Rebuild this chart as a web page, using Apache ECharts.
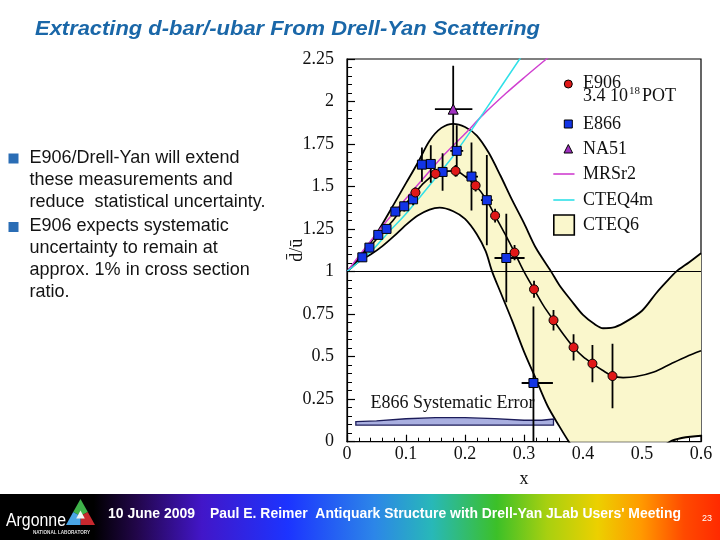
<!DOCTYPE html>
<html><head><meta charset="utf-8">
<script src="https://cdn.jsdelivr.net/npm/echarts@6/dist/echarts.min.js"></script>
<style>html,body{margin:0;padding:0;background:#fff}#c{width:720px;height:540px}</style>
</head><body><div id="c"></div>
<script>
// ---------- data ----------
const e906X   = [0.116,0.150,0.184,0.218,0.251,0.284,0.317,0.350,0.384,0.416,0.450];
const e906Y   = [1.465,1.575,1.592,1.506,1.329,1.112,0.896,0.714,0.555,0.459,0.386];
const e906Err = [0.030,0.030,0.035,0.035,0.040,0.045,0.050,0.060,0.077,0.110,0.190];

const e866X   = [0.026,0.038,0.053,0.067,0.082,0.097,0.112,0.127,0.142,0.162,0.186,0.211,0.237,0.270,0.316];
const e866Y   = [1.084,1.141,1.216,1.251,1.353,1.384,1.425,1.629,1.633,1.586,1.710,1.559,1.420,1.080,0.345];
const e866Err = [0.025,0.020,0.020,0.020,0.025,0.030,0.035,0.100,0.110,0.110,0.150,0.200,0.265,0.260,0.450];
const e866XErrLo = [0.004,0.004,0.004,0.004,0.004,0.004,0.004,0.006,0.006,0.008,0.011,0.011,0.010,0.020,0.020];
const e866XErrHi = [0.004,0.004,0.004,0.004,0.004,0.004,0.004,0.006,0.006,0.008,0.011,0.011,0.010,0.031,0.033];

const na51X = [0.180], na51Y = [1.955], na51Err = [0.255], na51XErrLo = [0.031], na51XErrHi = [0.0325];

const cteq6Upper = [[0,1],[0.02,1.08],[0.04,1.17],[0.06,1.28],[0.08,1.40],[0.10,1.52],[0.12,1.64],[0.14,1.77],[0.16,1.845],[0.18,1.869],[0.20,1.85],[0.22,1.80],[0.24,1.70],[0.26,1.565],[0.28,1.42],[0.30,1.285],[0.32,1.14],[0.346,1.0],[0.36,0.92],[0.38,0.83],[0.40,0.745],[0.42,0.69],[0.434,0.667],[0.45,0.67],[0.47,0.70],[0.50,0.77],[0.524,0.873],[0.54,0.935],[0.558,1.0],[0.58,1.055],[0.60,1.108]];
const cteq6Lower = [[0,1],[0.02,1.06],[0.04,1.10],[0.06,1.15],[0.08,1.21],[0.10,1.275],[0.12,1.33],[0.14,1.365],[0.157,1.376],[0.18,1.355],[0.20,1.31],[0.22,1.22],[0.235,1.12],[0.246,1.0],[0.26,0.88],[0.28,0.71],[0.30,0.53],[0.32,0.37],[0.34,0.21],[0.36,0.09],[0.376,0],[0.40,-0.12],[0.45,-0.22],[0.50,-0.15],[0.547,0],[0.60,0.035]];
const cteq6Central = [[0,1],[0.02,1.07],[0.04,1.15],[0.06,1.23],[0.08,1.31],[0.10,1.40],[0.116,1.465],[0.13,1.52],[0.15,1.575],[0.167,1.59],[0.184,1.592],[0.20,1.56],[0.218,1.506],[0.235,1.43],[0.251,1.329],[0.268,1.22],[0.284,1.112],[0.30,1.0],[0.317,0.896],[0.333,0.80],[0.35,0.714],[0.367,0.63],[0.384,0.555],[0.40,0.50],[0.416,0.459],[0.433,0.42],[0.45,0.386],[0.468,0.377],[0.49,0.383],[0.52,0.41],[0.55,0.46],[0.575,0.50],[0.60,0.534]];
const mrsr2 = [[0,1],[0.04,1.18],[0.08,1.35],[0.12,1.51],[0.16,1.67],[0.20,1.81],[0.23,1.92],[0.27,2.05],[0.30,2.14],[0.338,2.25],[0.36,2.31]];
const cteq4m = [[0,1],[0.02,1.058],[0.044,1.13],[0.07,1.23],[0.10,1.34],[0.157,1.58],[0.18,1.68],[0.2305,1.93],[0.2927,2.25],[0.31,2.34]];
const sysUpper = [[0.015,0.118],[0.05,0.122],[0.10,0.135],[0.15,0.141],[0.20,0.141],[0.25,0.136],[0.30,0.126],[0.33,0.126],[0.35,0.133]];
const sysLower = [[0.015,0.098],[0.35,0.098]];

const yTicks = {min:0, max:2.25, interval:0.25};
const xTicks = {min:0, max:0.6, interval:0.1};

const titleText = 'Extracting d-bar/-ubar From Drell-Yan Scattering';
const bulletLines = [
  ['E906/Drell-Yan will extend', 'these measurements and', 'reduce  statistical uncertainty.'],
  ['E906 expects systematic', 'uncertainty to remain at', 'approx. 1% in cross section', 'ratio.']
];
const footerDate = '10 June 2009';
const footerText = "Paul E. Reimer  Antiquark Structure with Drell-Yan JLab Users' Meeting";
const pageNum = '23';

// ---------- helpers ----------
const mctx = document.createElement('canvas').getContext('2d');
function measure(t, font){ mctx.font = font; return mctx.measureText(t).width; }

const errData = [];
e866X.forEach((x,i)=>errData.push([x,e866Y[i],e866Err[i],e866Err[i],e866XErrLo[i],e866XErrHi[i]]));
e906X.forEach((x,i)=>errData.push([x,e906Y[i],e906Err[i],e906Err[i],0,0]));
na51X.forEach((x,i)=>errData.push([x,na51Y[i],na51Err[i],na51Err[i],na51XErrLo[i],na51XErrHi[i]]));

function errRender(params, api){
  const x = api.value(0), y = api.value(1);
  const c = api.coord([x,y]);
  const t = api.coord([x, y + api.value(3)]);
  const b = api.coord([x, y - api.value(2)]);
  const l = api.coord([x - api.value(4), y]);
  const r = api.coord([x + api.value(5), y]);
  const st = {stroke:'#000', lineWidth:1.8};
  const ch = [{type:'line', shape:{x1:c[0],y1:t[1],x2:c[0],y2:b[1]}, style:st}];
  if (api.value(4) > 0 || api.value(5) > 0) ch.push({type:'line', shape:{x1:l[0],y1:c[1],x2:r[0],y2:c[1]}, style:st});
  return {type:'group', children:ch};
}
function bandRender(params, api){
  const pts = cteq6Upper.map(p=>api.coord(p));
  for (let i=cteq6Lower.length-1;i>=0;i--) pts.push(api.coord(cteq6Lower[i]));
  return {type:'polygon', shape:{points:pts}, style:{fill:'#faf7cc', stroke:null}};
}
function sysRender(params, api){
  const pts = sysUpper.map(p=>api.coord(p));
  for (let i=sysLower.length-1;i>=0;i--) pts.push(api.coord(sysLower[i]));
  const tp = api.coord([0.04, 0.226]);
  return {type:'group', children:[
    {type:'polygon', shape:{points:pts}, style:{fill:'#a9afe0', stroke:'#1c1c5a', lineWidth:1.3}},
    {type:'text', x:tp[0], y:tp[1], style:{text:'E866 Systematic Error', font:'18px "Liberation Serif"', fill:'#111', align:'left', verticalAlign:'middle'}}
  ]};
}

// ---------- slide graphics ----------
const graphics = [];
const titleFont = 'italic bold 20px "Liberation Sans"';
graphics.push({type:'text', x:35, y:29, scaleX: 505/measure(titleText,titleFont),
  style:{text:titleText, font:titleFont, fill:'#1a67a8', align:'left', verticalAlign:'middle'}});

let bfs = 18 * 210 / measure(bulletLines[0][0], '18px "Liberation Sans"');
const bFont = bfs.toFixed(2) + 'px "Liberation Sans"';
const lineYs = [[158.3,179.6,201.7],[226,247.8,269.6,291.7]];
const bulletYs = [158.5, 227];
bulletLines.forEach((grp,gi)=>{
  graphics.push({type:'rect', shape:{x:8.5, y:bulletYs[gi]-5, width:10, height:10}, style:{fill:'#2a6db5'}});
  grp.forEach((t,li)=>graphics.push({type:'text', x:29.5, y:lineYs[gi][li],
    style:{text:t, font:bFont, fill:'#141414', align:'left', verticalAlign:'middle'}}));
});

// legend (drawn as graphics to match the in-plot box layout)
const legFont = '18px "Liberation Serif"';
graphics.push({type:'circle', shape:{cx:568.3, cy:84, r:4}, style:{fill:'#e01818', stroke:'#000', lineWidth:1}, z:10});
graphics.push({type:'text', x:583, y:83, style:{text:'E906', font:legFont, fill:'#111', verticalAlign:'middle'}, z:10});
const potA = '3.4 10';
const potAW = measure(potA, legFont);
graphics.push({type:'text', x:583, y:96.5, style:{text:potA, font:legFont, fill:'#111', verticalAlign:'middle'}, z:10});
graphics.push({type:'text', x:583 + potAW + 1, y:91.5, style:{text:'18', font:'11px "Liberation Serif"', fill:'#111', verticalAlign:'middle'}, z:10});
graphics.push({type:'text', x:583 + potAW + 14, y:96.5, style:{text:'POT', font:legFont, fill:'#111', verticalAlign:'middle'}, z:10});
graphics.push({type:'rect', shape:{x:564.3, y:120, width:8, height:8}, style:{fill:'#1234e6', stroke:'#000', lineWidth:1}, z:10});
graphics.push({type:'text', x:583, y:124, style:{text:'E866', font:legFont, fill:'#111', verticalAlign:'middle'}, z:10});
graphics.push({type:'polygon', shape:{points:[[568.3,144.5],[564,153],[572.6,153]]}, style:{fill:'#a030c0', stroke:'#000', lineWidth:1}, z:10});
graphics.push({type:'text', x:583, y:149.5, style:{text:'NA51', font:legFont, fill:'#111', verticalAlign:'middle'}, z:10});
graphics.push({type:'line', shape:{x1:553.3,y1:174,x2:574.5,y2:174}, style:{stroke:'#d040d0', lineWidth:1.6}, z:10});
graphics.push({type:'text', x:583, y:174.5, style:{text:'MRSr2', font:legFont, fill:'#111', verticalAlign:'middle'}, z:10});
graphics.push({type:'line', shape:{x1:553.3,y1:200,x2:574.5,y2:200}, style:{stroke:'#30e0e8', lineWidth:1.6}, z:10});
graphics.push({type:'text', x:583, y:200.5, style:{text:'CTEQ4m', font:legFont, fill:'#111', verticalAlign:'middle'}, z:10});
graphics.push({type:'rect', shape:{x:553.8, y:215, width:20.5, height:20}, style:{fill:'#faf7cc', stroke:'#000', lineWidth:1.6}, z:10});
graphics.push({type:'text', x:583, y:225, style:{text:'CTEQ6', font:legFont, fill:'#111', verticalAlign:'middle'}, z:10});

// footer
graphics.push({type:'rect', shape:{x:0, y:494, width:720, height:46}, z:0,
  style:{fill:new echarts.graphic.LinearGradient(0,0,1,0,[
    {offset:0,color:'#000000'},{offset:0.13,color:'#000000'},{offset:0.19,color:'#22064a'},
    {offset:0.28,color:'#4216c8'},{offset:0.40,color:'#1c34ff'},{offset:0.52,color:'#2c86e8'},
    {offset:0.60,color:'#28b8b8'},{offset:0.69,color:'#3cc028'},{offset:0.76,color:'#a8d010'},
    {offset:0.83,color:'#ecd000'},{offset:0.89,color:'#ff9a00'},{offset:0.95,color:'#ff4a00'},
    {offset:1,color:'#ff2a00'}])}});
const argFont = '18px "Liberation Sans"';
graphics.push({type:'text', x:6, y:521.5, scaleX:60/measure('Argonne', argFont), style:{text:'Argonne', font:argFont, fill:'#fff', verticalAlign:'middle'}, z:5});
const nlFont = 'bold 5px "Liberation Sans"';
graphics.push({type:'text', x:33, y:533, scaleX:57/measure('NATIONAL LABORATORY', nlFont), style:{text:'NATIONAL LABORATORY', font:nlFont, fill:'#ddd', verticalAlign:'middle'}, z:5});
// logo triangle
graphics.push({type:'polygon', shape:{points:[[80.5,499],[87.8,512],[80.5,516],[73.2,512]]}, style:{fill:'#3fb24a'}, z:5});
graphics.push({type:'polygon', shape:{points:[[87.8,512],[95,525],[80.5,525],[80.5,516]]}, style:{fill:'#c8282e'}, z:5});
graphics.push({type:'polygon', shape:{points:[[73.2,512],[80.5,516],[80.5,525],[66,525]]}, style:{fill:'#4aa6e6'}, z:5});
graphics.push({type:'polygon', shape:{points:[[80.5,510.5],[76.2,518.5],[84.8,518.5]]}, style:{fill:'#f4f4f4'}, z:6});
const fdFont = 'bold 14px "Liberation Sans"';
graphics.push({type:'text', x:108, y:514.5, scaleX:87/measure(footerDate, fdFont), style:{text:footerDate, font:fdFont, fill:'#fff', verticalAlign:'middle'}, z:5});
graphics.push({type:'text', x:210, y:514.5, scaleX:471/measure(footerText, fdFont), style:{text:footerText, font:fdFont, fill:'#fff', verticalAlign:'middle'}, z:5});
graphics.push({type:'text', x:702, y:519, style:{text:pageNum, font:'9px "Liberation Sans"', fill:'#fff', verticalAlign:'middle'}, z:5});

// ---------- chart ----------
const chart = echarts.init(document.getElementById('c'), null, {renderer:'canvas'});
const axisFont = {fontFamily:'"Liberation Serif"', fontSize:18, color:'#111'};
const lineBase = {type:'line', showSymbol:false, symbol:'none', smooth:0.3, silent:true, clip:true};
chart.setOption({
  animation:false,
  backgroundColor:'#fff',
  grid:{left:347, top:59, width:354, height:382.7, show:true, borderColor:'#000', borderWidth:1.2, backgroundColor:'transparent'},
  xAxis:{type:'value', min:xTicks.min, max:xTicks.max, interval:xTicks.interval,
    name:'x', nameLocation:'middle', nameGap:29, nameTextStyle:axisFont, nameMoveOverlap:false,
    axisLine:{show:true, lineStyle:{color:'#000', width:1.2}},
    axisTick:{show:true, inside:true, length:7, lineStyle:{color:'#000', width:1.2}},
    minorTick:{show:true, splitNumber:5, length:4, lineStyle:{color:'#000', width:1}},
    splitLine:{show:false}, axisLabel:Object.assign({margin:4}, axisFont)},
  yAxis:{type:'value', min:yTicks.min, max:yTicks.max, interval:yTicks.interval,
    name:'d\u0304/\u016B', nameLocation:'middle', nameGap:41, nameTextStyle:axisFont, nameMoveOverlap:false,
    axisLine:{show:true, lineStyle:{color:'#000', width:1.2}},
    axisTick:{show:true, inside:true, length:8, lineStyle:{color:'#000', width:1.2}},
    minorTick:{show:true, splitNumber:5, length:5, lineStyle:{color:'#000', width:1}},
    splitLine:{show:false}, axisLabel:Object.assign({margin:13}, axisFont)},
  graphic:graphics,
  series:[
    {type:'custom', name:'CTEQ6 band', renderItem:bandRender, data:[[0,1]], clip:true, silent:true, z:1},
    Object.assign({}, lineBase, {name:'CTEQ6 upper', data:cteq6Upper, lineStyle:{color:'#000', width:1.8}, z:2}),
    Object.assign({}, lineBase, {name:'CTEQ6 lower', data:cteq6Lower, lineStyle:{color:'#000', width:1.8}, z:2}),
    Object.assign({}, lineBase, {name:'CTEQ6', data:cteq6Central, lineStyle:{color:'#000', width:1.6}, z:2,
      markLine:{silent:true, symbol:'none', label:{show:false}, lineStyle:{color:'#000', width:1, type:'solid'}, data:[{yAxis:1}]}}),
    Object.assign({}, lineBase, {name:'MRSr2', data:mrsr2, lineStyle:{color:'#d040d0', width:1.5}, z:3}),
    Object.assign({}, lineBase, {name:'CTEQ4m', data:cteq4m, lineStyle:{color:'#30e0e8', width:1.5}, z:3}),
    {type:'custom', name:'E866 Systematic Error', renderItem:sysRender, data:[[0,0]], clip:true, silent:true, z:3},
    {type:'custom', name:'error bars', renderItem:errRender, data:errData, clip:true, silent:true, z:4,
      dimensions:['x','y','elo','ehi','xlo','xhi'], encode:{x:0, y:1}},
    {type:'scatter', name:'E866', data:e866X.map((x,i)=>[x,e866Y[i]]), symbol:'rect', symbolSize:9,
      itemStyle:{color:'#1234e6', borderColor:'#000', borderWidth:1, opacity:1}, z:5},
    {type:'scatter', name:'E906', data:e906X.map((x,i)=>[x,e906Y[i]]), symbol:'circle', symbolSize:9,
      itemStyle:{color:'#e01818', borderColor:'#000', borderWidth:1, opacity:1}, z:5},
    {type:'scatter', name:'NA51', data:na51X.map((x,i)=>[x,na51Y[i]]), symbol:'triangle', symbolSize:10,
      itemStyle:{color:'#a030c0', borderColor:'#000', borderWidth:1, opacity:1}, z:5}
  ]
});
</script></body></html>
